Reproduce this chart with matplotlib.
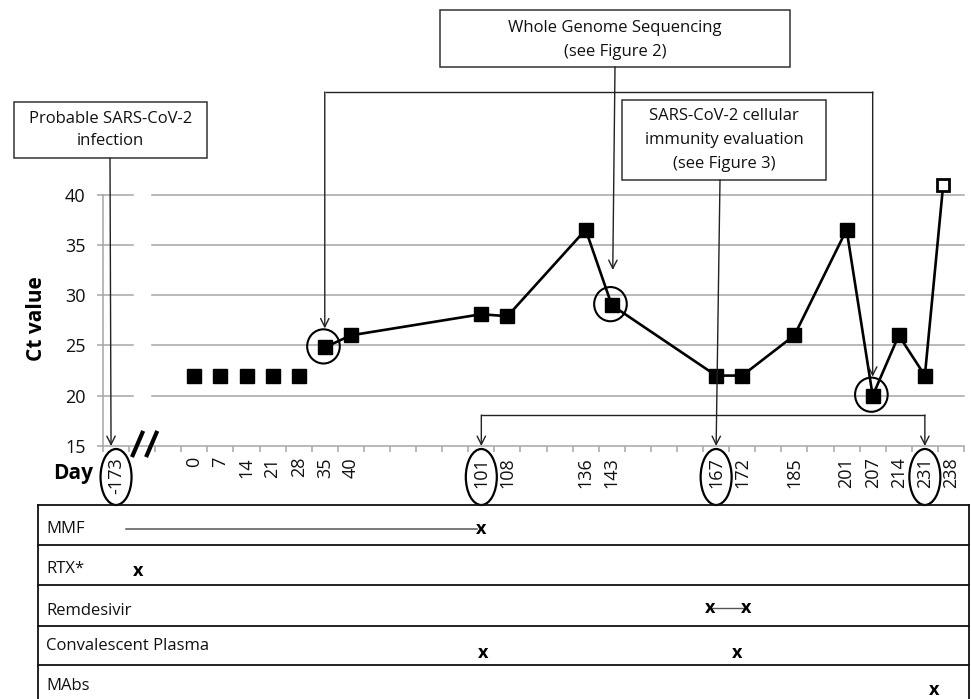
import matplotlib
matplotlib.use('Agg')
import matplotlib.pyplot as plt
from matplotlib.patches import Ellipse, Rectangle

plt.rcParams['font.family'] = ['Open Sans', 'DejaVu Sans']

# ---------------- data ----------------
day_labels = ['-173', '', '', '0', '7', '14', '21', '28', '35', '40', '', '', '', '',
              '101', '108', '', '', '136', '143', '', '', '', '167', '172', '', '185',
              '', '201', '207', '214', '231', '238']
circled_day_labels = ['-173', '101', '167', '231']

early_days = ['0', '7', '14', '21', '28']
early_ct = [22, 22, 22, 22, 22]

series_days = ['35', '40', '101', '108', '136', '143', '167', '172', '185', '201',
               '207', '214', '231', '238']
series_ct = [24.8, 26.0, 28.1, 27.9, 36.5, 29.0, 22.0, 22.0, 26.0, 36.5, 20.0, 26.0,
             22.0, 40.9]
negative_day = '238'          # last sample drawn as open square
circled_points = ['35', '143', '207']

yticks = [15, 20, 25, 30, 35, 40]

treat_rows = ['MMF', 'RTX*', 'Remdesivir', 'Convalescent Plasma', 'MAbs']
# positions on the day axis (category units)
mmf_line = (0.9, 14.35)
mmf_x = [14.5]
rtx_x = [1.35]
remdesivir_x = [23.25, 24.65]
plasma_x = [14.55, 24.3]
mabs_x = [31.85]
treat_marks = [mmf_x, rtx_x, remdesivir_x, plasma_x, mabs_x]

# ---------------- layout ----------------
W, H = 972, 699
fig = plt.figure(figsize=(W / 100, H / 100), dpi=100)
L, R, T, B = 103, 964, 194.5, 446
ax = fig.add_axes([L / W, 1 - B / H, (R - L) / W, (B - T) / H])
n = len(day_labels)
ax.set_xlim(0, n)
ax.set_ylim(15, 40)

def pos(day):
    return day_labels.index(day) + 0.5

def px(p):
    return L + p * (R - L) / n

def py(v):
    return B - (v - 15) * (B - T) / 25

grid_c = '#a6a6a6'
for s in ['top', 'right']:
    ax.spines[s].set_visible(False)
for s in ['left', 'bottom']:
    ax.spines[s].set_color(grid_c)
    ax.spines[s].set_linewidth(1.1)

ax.set_xticks(range(n + 1))
ax.set_xticklabels([])
ax.set_xticks([i + 0.5 for i in range(n)], minor=True)
ax.set_xticklabels(day_labels, minor=True, rotation=90, fontsize=13, color='#111')
ax.tick_params(axis='x', which='major', length=4.5, width=1.1, color=grid_c)
ax.tick_params(axis='x', which='minor', length=0, pad=8)
ax.set_yticks(yticks)
ax.set_yticklabels([str(v) for v in yticks], fontsize=13, color='#111')
ax.tick_params(axis='y', length=4.5, width=1.1, color=grid_c, pad=8)

# gridlines with an axis-break gap
for v in yticks[1:]:
    ax.plot([0, 1.15], [v, v], color=grid_c, lw=1.1, zorder=1, clip_on=False)
    ax.plot([1.88, n], [v, v], color=grid_c, lw=1.1, zorder=1, clip_on=False)

# break mark
for x0 in (1.11, 1.65):
    ax.plot([x0, x0 + 0.43], [13.9, 16.5], color='black', lw=3, clip_on=False,
            solid_capstyle='butt', zorder=5)

# early points (not connected)
ax.plot([pos(d) for d in early_days], early_ct, 's', color='black', ms=9.5,
        zorder=4, clip_on=False)

# main series
sx = [pos(d) for d in series_days]
sx[-1] -= 0.3
ax.plot(sx, series_ct, '-', color='black', lw=1.9, zorder=3, clip_on=False)
ax.plot(sx[:-1], series_ct[:-1], 's', color='black', ms=9.5, zorder=4, clip_on=False)
ax.plot(sx[-1:], series_ct[-1:], 's', mfc='white', mec='black', mew=2, ms=8.5,
        zorder=4, clip_on=False)

# circled data points
for d in circled_points:
    i = series_days.index(d)
    ax.add_patch(Ellipse((sx[i] - 0.05, series_ct[i] + 0.1), 1.25, 3.4, fill=False,
                         ec='black', lw=1.5, zorder=5, clip_on=False))

# axis titles
fig.text(36 / W, 1 - 319 / H, 'Ct value', rotation=90, fontsize=15, fontweight='bold',
         ha='center', va='center')
fig.text(73 / W, 1 - 474 / H, 'Day', fontsize=15, fontweight='bold',
         ha='center', va='center')

# ---------------- overlay in pixel coords ----------------
ov = fig.add_axes([0, 0, 1, 1], zorder=10)
ov.set_xlim(0, W)
ov.set_ylim(H, 0)
ov.axis('off')
ov.patch.set_alpha(0)

line_c = '#222222'
aprops = dict(arrowstyle='->,head_length=0.6,head_width=0.3', lw=1.0, color=line_c,
              shrinkA=0, shrinkB=0)

def arrow(x0, y0, x1, y1):
    ov.annotate('', xy=(x1, y1), xytext=(x0, y0), arrowprops=aprops)

def seg(xs, ys):
    ov.plot(xs, ys, color=line_c, lw=1.0, solid_capstyle='butt')

def box(x0, y0, x1, y1, text, cy, ls=1.6):
    ov.add_patch(Rectangle((x0, y0), x1 - x0, y1 - y0, fill=False, ec='#333', lw=1.1))
    ov.text((x0 + x1) / 2, cy, text, ha='center', va='center', fontsize=12,
            linespacing=ls, color='#111')

# Box 1
box(14, 102, 207, 158, 'Probable SARS-CoV-2\ninfection', 130, ls=1.55)
arrow(110, 158, px(pos('-173')) - 5, B)

# Box 2 + bracket
box(440, 10, 790, 67, 'Whole Genome Sequencing\n(see Figure 2)', 40, ls=1.6)
i35, i143, i207 = (series_days.index(d) for d in circled_points)
arrow(615, 67, px(sx[i143]) + 1, 270)
seg([px(sx[i35]), px(sx[i207])], [92, 92])
arrow(px(sx[i35]), 92, px(sx[i35]), py(series_ct[i35]) - 19)
arrow(px(sx[i207]), 92, px(sx[i207]), py(series_ct[i207]) - 19)

# Box 3 + bracket
box(622, 100, 826, 180, 'SARS-CoV-2 cellular\nimmunity evaluation\n(see Figure 3)', 140,
    ls=1.65)
arrow(720, 180, px(pos('167')), B)
seg([px(pos('101')), px(pos('231'))], [415, 415])
arrow(px(pos('101')), 415, px(pos('101')), B)
arrow(px(pos('231')), 415, px(pos('231')), B)

# ellipses round day labels
for d in circled_day_labels:
    ov.add_patch(Ellipse((px(pos(d)), 477), 31, 56, fill=False, ec='black', lw=1.6))

# ---------------- treatment table ----------------
row_edges = [505, 545, 585, 626, 665]
label_y = [529, 569, 611, 646, 686]
mark_y = [529, 571, 608, 653, 690]
tl, tr = 38, 969
for y in row_edges:
    ov.plot([tl, tr], [y, y], color='#111', lw=1.3)
ov.plot([tl, tl], [row_edges[0], H], color='#111', lw=1.3)
ov.plot([tr, tr], [row_edges[0], H], color='#111', lw=1.3)

for name, ly in zip(treat_rows, label_y):
    ov.text(46, ly, name, ha='left', va='center', fontsize=12, color='#111')

ov.plot([px(mmf_line[0]), px(mmf_line[1])], [mark_y[0], mark_y[0]], color='#555', lw=1.1)
ov.plot([px(remdesivir_x[0]), px(remdesivir_x[1])], [mark_y[2], mark_y[2]],
        color='#555', lw=1.0)
for xs, my in zip(treat_marks, mark_y):
    for xv in xs:
        ov.text(px(xv), my, 'x', ha='center', va='center', fontsize=13,
                fontweight='bold', color='black')

fig.savefig('out.png', dpi=100)
